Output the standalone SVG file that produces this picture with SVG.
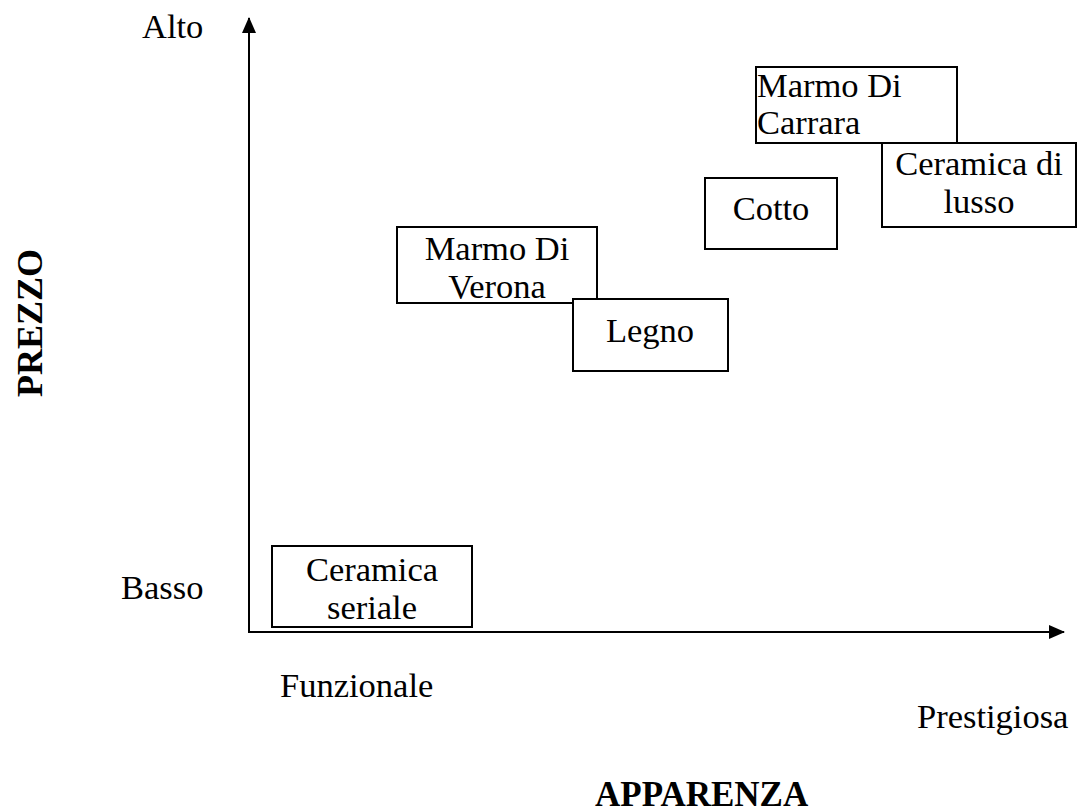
<svg xmlns="http://www.w3.org/2000/svg" width="1079" height="812" viewBox="0 0 1079 812">
  <style>
    text { font-family: "Liberation Serif", "Times New Roman", serif; font-size: 34.5px; fill: #000; }
    .title { font-weight: bold; font-size: 35px; }
    .box { fill: #fff; stroke: #000; stroke-width: 2; }
    .axis { stroke: #000; stroke-width: 2; fill: none; }
  </style>
  <defs>
    <marker id="arrow" viewBox="0 0 16 14" refX="15" refY="7" markerWidth="16" markerHeight="14" markerUnits="userSpaceOnUse" orient="auto">
      <path d="M0,0 L16,7 L0,14 Z" fill="#000"/>
    </marker>
  </defs>
  <rect width="1079" height="812" fill="#fff"/>

  <!-- axes -->
  <g id="connectors">
    <line class="axis" x1="249" y1="632" x2="249" y2="18" marker-end="url(#arrow)"/>
    <line class="axis" x1="248" y1="632" x2="1064" y2="632" marker-end="url(#arrow)"/>
  </g>

  <!-- axis labels -->
  <g id="labels">
    <text x="142" y="38">Alto</text>
    <text x="121" y="599">Basso</text>
    <text x="280" y="697">Funzionale</text>
    <text x="917" y="728">Prestigiosa</text>
    <text class="title" x="595" y="806">APPARENZA</text>
    <text class="title" transform="translate(42,323) rotate(-90)" text-anchor="middle" style="font-size:36px">PREZZO</text>
  </g>

  <g id="ceramica-seriale">
    <rect class="box" x="272" y="546" width="200" height="81"/>
    <text x="372" y="581" text-anchor="middle">Ceramica</text>
    <text x="372" y="619" text-anchor="middle">seriale</text>
  </g>

  <g id="marmo-verona">
    <rect class="box" x="397" y="227" width="200" height="76"/>
    <text x="497" y="260" text-anchor="middle">Marmo Di</text>
    <text x="497" y="298" text-anchor="middle">Verona</text>
  </g>

  <g id="legno">
    <rect class="box" x="573" y="299" width="155" height="72"/>
    <text x="650" y="342" text-anchor="middle">Legno</text>
  </g>

  <g id="cotto">
    <rect class="box" x="705" y="178" width="132" height="71"/>
    <text x="771" y="220" text-anchor="middle">Cotto</text>
  </g>

  <g id="marmo-carrara">
    <rect class="box" x="756" y="67" width="201" height="76"/>
    <text x="757" y="97">Marmo Di</text>
    <text x="757" y="134">Carrara</text>
  </g>

  <g id="ceramica-lusso">
    <rect class="box" x="882" y="143" width="194" height="84"/>
    <text x="979" y="175" text-anchor="middle">Ceramica di</text>
    <text x="979" y="213" text-anchor="middle">lusso</text>
  </g>
</svg>
